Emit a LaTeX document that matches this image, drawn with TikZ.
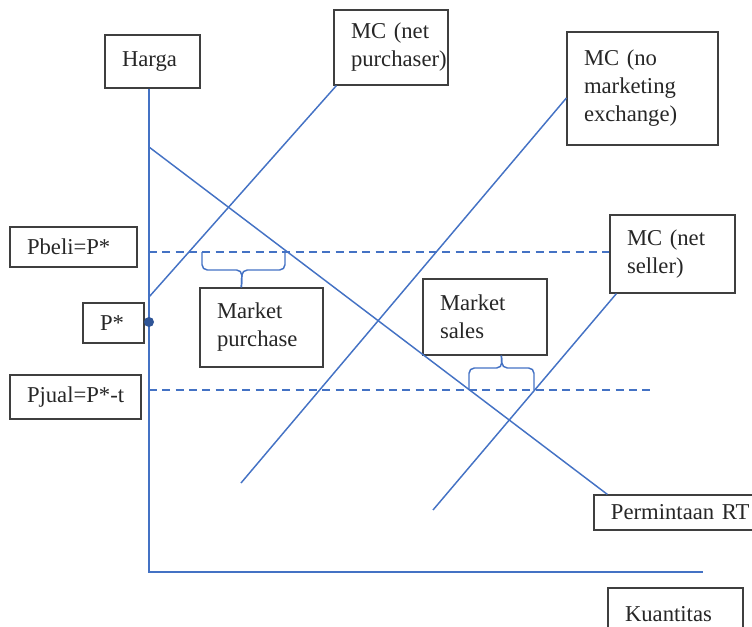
\documentclass[tikz,border=0pt]{standalone}
\usepackage{fontspec}
\setmainfont{Liberation Serif}
\usetikzlibrary{positioning, calc}
\definecolor{curveblue}{HTML}{4472C4}
\definecolor{dotblue}{HTML}{2F5597}
\definecolor{boxgray}{HTML}{3F3F3F}
\definecolor{inkgray}{HTML}{262626}
\hyphenpenalty=10000
\exhyphenpenalty=10000

\begin{document}
\begin{tikzpicture}[
  x=0.75pt, y=-0.75pt,
  lbox/.style 2 args={
    rectangle, draw=boxgray, line width=0.9pt,
    font=\fontsize{17}{21}\selectfont,
    text=inkgray, align=left, inner xsep=12.75pt, inner ysep=0pt,
    text width=#1, minimum height=#2,
  },
  curve/.style={draw=curveblue, line width=1.1pt},
  priceline/.style={curve, dash pattern=on 6pt off 4pt},
  mbrace/.style={curve, rounded corners=4pt},
  pdot/.style={circle, fill=dotblue, inner sep=0pt, minimum size=7.5pt},
]
  \clip (0,0) rectangle (752,627);

  % Axis labels
  \node[lbox={45.75pt}{39.75pt}] (harga) at (152.5,61.5) {Harga};
  \node[lbox={75.75pt}{39pt}] (kuan) at (675.5,614) {Kuantitas};

  % Curve labels
  \node[lbox={60pt}{56.25pt}] (mcnp) at (391,47.5) {MC (net\\purchaser)};
  \node[lbox={87.75pt}{84.75pt}] (mcnm) at (642.5,88.5) {MC (no\\marketing\\exchange)};
  \node[lbox={68.25pt}{58.5pt}] (mcns) at (672.5,254) {MC (net\\seller)};
  \node[lbox={110pt}{26.25pt}] (perm) at (684.3,512.5) {Permintaan RT};

  % Price labels
  \node[lbox={69.75pt}{30pt}] (pbeli) at (73.5,247) {Pbeli=P*};
  \node[lbox={20.25pt}{30pt}] (pstar) at (113.5,323) {P*};
  \node[lbox={72.75pt}{33pt}] (pjual) at (75.5,397) {Pjual=P*-t};

  % Market labels
  \node[lbox={66.75pt}{59.25pt}] (mp) at (261.5,327.5) {Market\\purchase};
  \node[lbox={67.5pt}{57pt}] (ms) at (485,317) {Market\\sales};

  % Axes
  \coordinate (O) at (149,572);
  \coordinate (xend) at (703,572);
  \draw[curve] (harga.south -| O) -- (O) -- (xend);
  \node[pdot] (dot) at (149,322) {};

  % Demand and MC curves
  \coordinate (dstart) at (149,147);
  \coordinate (npstart) at (149,297);
  \coordinate (nmstart) at (241,483);
  \coordinate (nsstart) at (433,510);
  \draw[curve] (dstart) -- ($(perm.north west)+(14,0)$);
  \draw[curve] (npstart) -- ($(mcnp.south west)+(3,0)$);
  \draw[curve] (nmstart) -- ($(mcnm.west)+(0,9.5)$);
  \draw[curve] (nsstart) -- ($(mcns.south west)+(7,0)$);

  % Price lines
  \coordinate (pjend) at (655,390);
  \draw[priceline] (149,252) -- ($(mcns.west)+(0,-2)$);
  \draw[priceline] (149,390) -- (pjend);

  % Braces
  \draw[mbrace] (202,252) -- (202,270) -- (242,270) -- ($(mp.north west)+(42,0)$);
  \draw[mbrace] (285,252) -- (285,270) -- (242,270) -- ($(mp.north west)+(42,0)$);
  \draw[mbrace] (469,390) -- (469,368) -- (502,368) -- ($(ms.south west)+(79,0)$);
  \draw[mbrace] (534,390) -- (534,368) -- (502,368) -- ($(ms.south west)+(79,0)$);
\end{tikzpicture}
\end{document}
